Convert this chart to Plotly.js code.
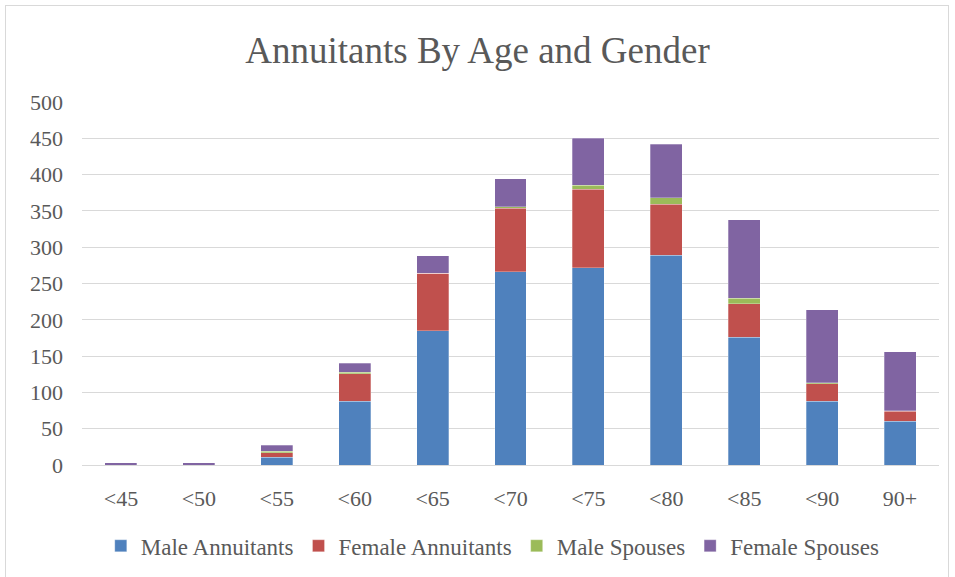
<!DOCTYPE html>
<html>
<head>
<meta charset="utf-8">
<script src="https://cdn.plot.ly/plotly-3.0.1.min.js"></script>
<style>
html,body{margin:0;padding:0;background:#fff;}
#frame{position:absolute;left:5px;top:5px;width:944px;height:580px;border:1px solid #d9d9d9;box-sizing:border-box;}
#chart{position:absolute;left:0;top:0;width:955px;height:577px;}
</style>
</head>
<body>
<div id="frame"></div>
<div id="chart"></div>
<script>
const categories = ["<45","<50","<55","<60","<65","<70","<75","<80","<85","<90","90+"];
const maleAnnuitants   = [0, 0, 11, 88, 185, 266, 272, 289, 176, 88, 60];
const femaleAnnuitants = [0, 0, 6, 38, 79, 88, 108, 70, 46, 24, 14];
const maleSpouses      = [0, 0, 2, 2, 0, 2, 5, 9, 8, 1, 1];
const femaleSpouses    = [3, 3, 8, 12, 24, 38, 65, 74, 108, 101, 81];
const seriesNames  = ["Male Annuitants","Female Annuitants","Male Spouses","Female Spouses"];
const seriesColors = ["#4f81bd","#c0504d","#9bbb59","#8064a2"];
const seriesData = [maleAnnuitants, femaleAnnuitants, maleSpouses, femaleSpouses];

const FONT = '"Liberation Serif", "Times New Roman", serif';

const traces = seriesData.map((vals, i) => ({
  type: "bar",
  name: seriesNames[i],
  x: categories,
  y: vals,
  marker: {color: seriesColors[i], line: {color: "rgba(255,255,255,0.35)", width: 0.8}},
  hoverinfo: "x+y+name"
}));

const layout = {
  width: 955, height: 577,
  barmode: "stack",
  bargap: 0.59,
  paper_bgcolor: "rgba(0,0,0,0)",
  plot_bgcolor: "rgba(0,0,0,0)",
  margin: {l: 82, r: 16, t: 102, b: 112},
  font: {family: FONT, color: "#595959", size: 22},
  title: {
    text: "Annuitants By Age and Gender",
    font: {family: FONT, size: 37, color: "#595959"},
    x: 0.5, xanchor: "center", y: 0.913, yanchor: "middle"
  },
  xaxis: {
    type: "category",
    showline: true, linecolor: "#d9d9d9", linewidth: 1,
    ticks: "", showgrid: false,
    tickfont: {family: FONT, size: 22, color: "#595959"},
    ticklabelstandoff: 14
  },
  yaxis: {
    range: [0, 500],
    dtick: 50,
    showgrid: true, gridcolor: "#d9d9d9", gridwidth: 1,
    zeroline: false, showline: false, ticks: "",
    tickfont: {family: FONT, size: 22, color: "#595959"},
    ticklabelstandoff: 18
  },
  legend: {
    orientation: "h",
    xref: "container", yref: "container",
    x: 0.516, xanchor: "center",
    y: 0.054, yanchor: "middle",
    font: {family: FONT, size: 23, color: "#595959"},
    itemwidth: 30,
    traceorder: "normal"
  },
  showlegend: true
};

Plotly.newPlot("chart", traces, layout, {displayModeBar: false, staticPlot: true});
</script>
</body>
</html>
